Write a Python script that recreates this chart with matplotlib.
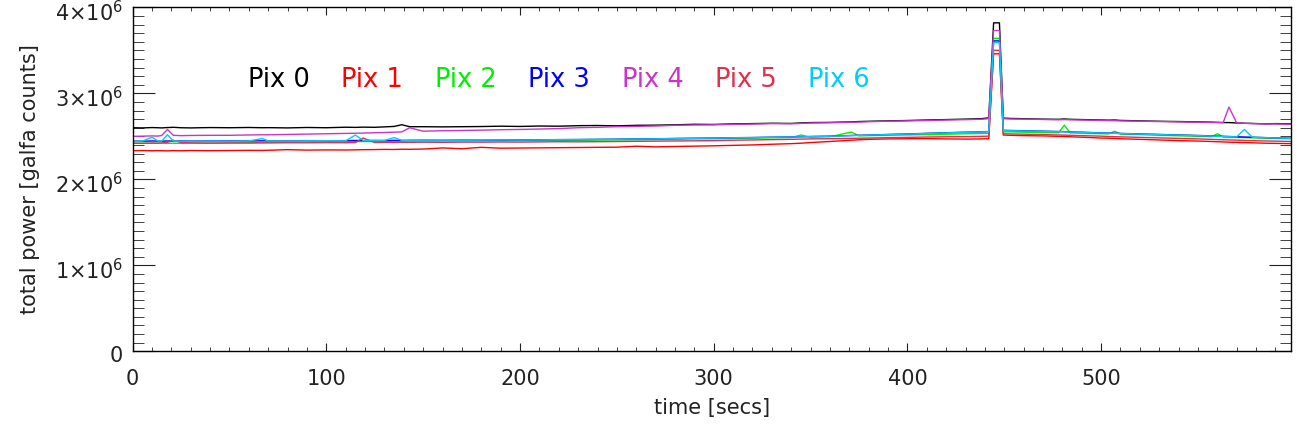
import matplotlib
matplotlib.use("Agg")
import matplotlib.pyplot as plt
import matplotlib.transforms as mtransforms
from matplotlib.ticker import MultipleLocator, FuncFormatter

# time axis [s] (shared by all pixels)
t = [0, 5, 10, 13, 15, 18, 21, 25, 30, 40,
     50, 60, 67, 70, 80, 90, 100, 110, 115, 119,
     125, 130, 135, 139, 143, 150, 160, 170, 180, 190,
     200, 210, 220, 230, 240, 250, 260, 270, 280, 290,
     300, 310, 320, 330, 340, 345, 350, 360, 371, 375,
     380, 390, 400, 410, 420, 430, 438, 442, 444.5, 447.5,
     449.5, 453, 460, 470, 478, 481, 484, 490, 500, 504,
     507, 510, 520, 530, 540, 550, 557, 560, 563, 566,
     570, 574, 578, 585, 590, 598]

# total power, units of 1e6 galfa counts
pix0 = [2.600, 2.598, 2.602, 2.600, 2.598, 2.602, 2.605, 2.600, 2.598, 2.602,
        2.600, 2.603, 2.600, 2.601, 2.598, 2.603, 2.600, 2.606, 2.604, 2.607,
        2.605, 2.610, 2.615, 2.635, 2.612, 2.612, 2.610, 2.612, 2.614, 2.618,
        2.615, 2.620, 2.618, 2.624, 2.626, 2.622, 2.628, 2.630, 2.634, 2.640,
        2.638, 2.645, 2.648, 2.652, 2.650, 2.656, 2.660, 2.662, 2.668, 2.672,
        2.675, 2.680, 2.684, 2.690, 2.695, 2.700, 2.705, 2.715, 3.820, 3.820,
        2.712, 2.708, 2.705, 2.700, 2.698, 2.702, 2.698, 2.695, 2.690, 2.688,
        2.690, 2.685, 2.680, 2.675, 2.672, 2.668, 2.665, 2.662, 2.660, 2.660,
        2.655, 2.652, 2.650, 2.645, 2.648, 2.645]

pix1 = [2.333, 2.335, 2.332, 2.334, 2.333, 2.331, 2.334, 2.332, 2.335, 2.333,
        2.335, 2.337, 2.336, 2.338, 2.345, 2.340, 2.342, 2.341, 2.343, 2.345,
        2.346, 2.348, 2.347, 2.350, 2.349, 2.352, 2.365, 2.356, 2.372, 2.362,
        2.364, 2.366, 2.368, 2.370, 2.372, 2.374, 2.385, 2.378, 2.382, 2.386,
        2.390, 2.395, 2.400, 2.408, 2.415, 2.420, 2.428, 2.440, 2.455, 2.460,
        2.465, 2.470, 2.472, 2.474, 2.470, 2.468, 2.470, 2.472, 3.460, 3.460,
        2.515, 2.512, 2.508, 2.505, 2.500, 2.498, 2.495, 2.490, 2.480, 2.478,
        2.476, 2.472, 2.465, 2.458, 2.450, 2.445, 2.440, 2.437, 2.435, 2.432,
        2.430, 2.428, 2.425, 2.420, 2.418, 2.415]

pix2 = [2.420, 2.421, 2.419, 2.420, 2.422, 2.418, 2.420, 2.418, 2.421, 2.419,
        2.422, 2.424, 2.426, 2.428, 2.430, 2.432, 2.434, 2.436, 2.438, 2.440,
        2.440, 2.442, 2.443, 2.444, 2.444, 2.445, 2.446, 2.447, 2.448, 2.449,
        2.450, 2.451, 2.452, 2.454, 2.456, 2.458, 2.460, 2.463, 2.466, 2.470,
        2.472, 2.476, 2.479, 2.483, 2.486, 2.515, 2.490, 2.495, 2.550, 2.505,
        2.508, 2.512, 2.516, 2.520, 2.525, 2.530, 2.533, 2.535, 3.640, 3.640,
        2.552, 2.552, 2.548, 2.545, 2.542, 2.630, 2.540, 2.536, 2.530, 2.528,
        2.560, 2.525, 2.520, 2.512, 2.506, 2.500, 2.496, 2.530, 2.492, 2.490,
        2.488, 2.485, 2.482, 2.478, 2.476, 2.472]

pix3 = [2.445, 2.444, 2.446, 2.445, 2.444, 2.446, 2.445, 2.447, 2.445, 2.446,
        2.447, 2.446, 2.448, 2.447, 2.448, 2.450, 2.449, 2.450, 2.452, 2.451,
        2.452, 2.451, 2.453, 2.452, 2.454, 2.455, 2.454, 2.456, 2.455, 2.457,
        2.458, 2.460, 2.462, 2.463, 2.465, 2.467, 2.470, 2.472, 2.475, 2.478,
        2.480, 2.484, 2.486, 2.490, 2.493, 2.495, 2.498, 2.502, 2.510, 2.512,
        2.515, 2.522, 2.528, 2.535, 2.542, 2.548, 2.552, 2.556, 3.610, 3.610,
        2.570, 2.568, 2.565, 2.560, 2.556, 2.554, 2.552, 2.548, 2.540, 2.538,
        2.536, 2.534, 2.528, 2.522, 2.516, 2.510, 2.505, 2.503, 2.500, 2.498,
        2.495, 2.492, 2.490, 2.485, 2.482, 2.478]

pix4 = [2.500, 2.502, 2.505, 2.503, 2.510, 2.580, 2.512, 2.508, 2.510, 2.512,
        2.512, 2.516, 2.518, 2.518, 2.522, 2.526, 2.530, 2.534, 2.536, 2.538,
        2.542, 2.545, 2.548, 2.552, 2.600, 2.560, 2.565, 2.568, 2.572, 2.577,
        2.580, 2.585, 2.590, 2.600, 2.605, 2.612, 2.616, 2.620, 2.628, 2.632,
        2.634, 2.640, 2.643, 2.648, 2.646, 2.650, 2.655, 2.658, 2.664, 2.666,
        2.670, 2.676, 2.680, 2.684, 2.690, 2.694, 2.698, 2.705, 3.730, 3.730,
        2.705, 2.702, 2.700, 2.696, 2.692, 2.695, 2.692, 2.690, 2.685, 2.683,
        2.682, 2.680, 2.676, 2.672, 2.668, 2.664, 2.662, 2.660, 2.660, 2.840,
        2.655, 2.652, 2.648, 2.644, 2.644, 2.640]

pix5 = [2.420, 2.418, 2.422, 2.420, 2.424, 2.430, 2.455, 2.428, 2.424, 2.422,
        2.424, 2.423, 2.425, 2.424, 2.426, 2.425, 2.427, 2.426, 2.428, 2.480,
        2.428, 2.430, 2.429, 2.431, 2.430, 2.432, 2.430, 2.433, 2.432, 2.434,
        2.433, 2.435, 2.437, 2.436, 2.438, 2.440, 2.442, 2.444, 2.446, 2.448,
        2.450, 2.455, 2.458, 2.462, 2.465, 2.468, 2.470, 2.472, 2.476, 2.478,
        2.480, 2.485, 2.488, 2.492, 2.495, 2.497, 2.500, 2.502, 3.500, 3.500,
        2.530, 2.528, 2.525, 2.520, 2.516, 2.514, 2.512, 2.508, 2.502, 2.498,
        2.496, 2.494, 2.488, 2.482, 2.476, 2.470, 2.465, 2.462, 2.460, 2.458,
        2.456, 2.452, 2.450, 2.446, 2.444, 2.440]

pix6 = [2.442, 2.444, 2.490, 2.446, 2.444, 2.520, 2.446, 2.444, 2.443, 2.445,
        2.444, 2.446, 2.475, 2.446, 2.447, 2.448, 2.449, 2.448, 2.515, 2.452,
        2.451, 2.452, 2.485, 2.453, 2.452, 2.454, 2.455, 2.454, 2.456, 2.458,
        2.457, 2.459, 2.461, 2.462, 2.464, 2.466, 2.469, 2.471, 2.474, 2.477,
        2.479, 2.483, 2.485, 2.489, 2.492, 2.494, 2.497, 2.501, 2.508, 2.511,
        2.514, 2.520, 2.526, 2.533, 2.540, 2.546, 2.550, 2.554, 3.590, 3.590,
        2.566, 2.565, 2.562, 2.558, 2.554, 2.552, 2.550, 2.546, 2.538, 2.536,
        2.534, 2.532, 2.526, 2.520, 2.514, 2.508, 2.503, 2.501, 2.498, 2.496,
        2.494, 2.580, 2.490, 2.484, 2.481, 2.477]

series = [pix0, pix1, pix2, pix3, pix4, pix5, pix6]
labels = ["Pix 0", "Pix 1", "Pix 2", "Pix 3", "Pix 4", "Pix 5", "Pix 6"]
colors = ["#000000", "#ff0000", "#00ee00", "#0000ff", "#cc33cc", "#e0304a", "#00ccff"]

plt.rcParams["font.family"] = "DejaVu Sans"

fig = plt.figure(figsize=(12.99, 4.33), dpi=100)
ax = fig.add_axes([0.1021, 0.1887, 0.8917, 0.7943])

for vals, col in zip(series, colors):
    ax.plot(t, [v * 1e6 for v in vals], color=col, lw=1.0)

# labels written across the plot like the original
for i, (lab, col) in enumerate(zip(labels, colors)):
    ax.text(59.6 + 48.2 * i, 3.155e6, lab, color=col, fontsize=18.5,
            va="center", ha="left")

ax.set_xlim(0, 598)
ax.set_ylim(0, 4e6)
ax.xaxis.set_major_locator(MultipleLocator(100))
ax.xaxis.set_minor_locator(MultipleLocator(10))
ax.yaxis.set_major_locator(MultipleLocator(1e6))
ax.yaxis.set_minor_locator(MultipleLocator(1e5))


def yfmt(v, pos):
    n = int(round(v / 1e6))
    if n == 0:
        return "0"
    return r"%d$\times$10$^{6}$" % n


ax.yaxis.set_major_formatter(FuncFormatter(yfmt))
ax.tick_params(axis="both", which="both", direction="in", top=True, right=True,
               labelsize=15, colors="#222222")
ax.tick_params(axis="x", which="major", length=5.5, pad=13)
ax.tick_params(axis="x", which="minor", length=2.7)
ax.tick_params(axis="y", which="major", length=16, pad=7)
ax.tick_params(axis="y", which="minor", length=8)
for s in ax.spines.values():
    s.set_linewidth(1.0)

# shift y tick labels down a little (keeps the top one inside the figure)
shift = mtransforms.ScaledTranslation(0, -3 / 100, fig.dpi_scale_trans)
for lbl in ax.get_yticklabels():
    lbl.set_transform(lbl.get_transform() + shift)

fig.text(0.5478, 0.058, "time [secs]", fontsize=15, ha="center", va="center",
         color="#222222")
fig.text(0.023, 0.586, "total power [galfa counts]", fontsize=15, rotation=90,
         ha="center", va="center", color="#222222")

fig.savefig("out.png", dpi=100)
